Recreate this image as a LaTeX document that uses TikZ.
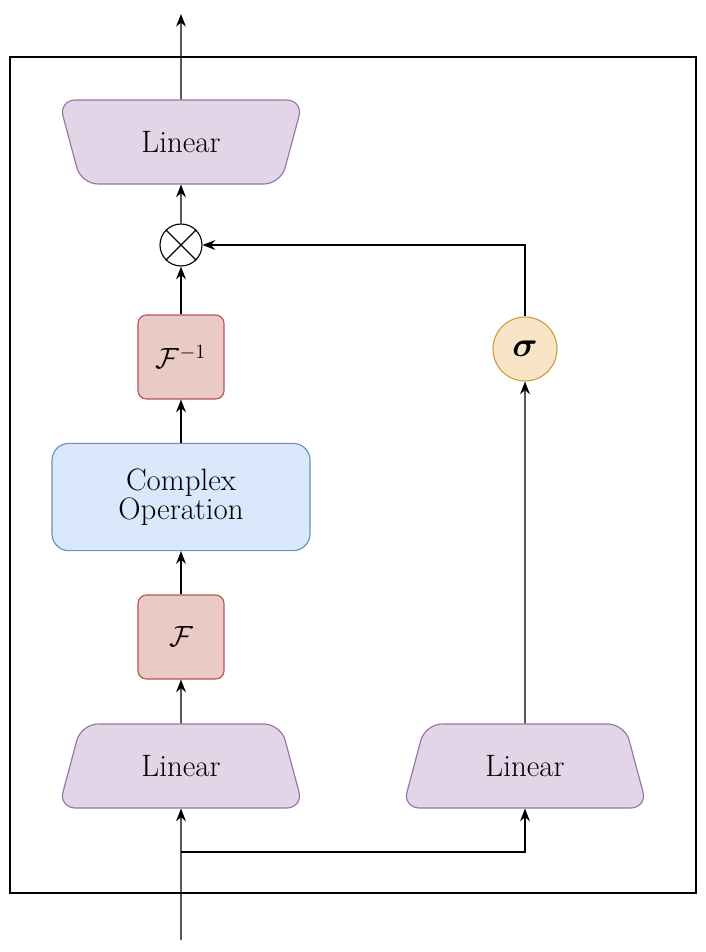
\documentclass[tikz,border=0pt]{standalone}
\usepackage{amsmath}
\usepackage{amssymb}
\usepackage{bm}
\usetikzlibrary{shapes.geometric,positioning,arrows.meta}
\definecolor{linfill}{HTML}{E1D5E7}
\definecolor{linline}{HTML}{9673A6}
\definecolor{fftfill}{HTML}{EACAC4}
\definecolor{fftline}{HTML}{B85450}
\definecolor{opfill}{HTML}{DAE8FC}
\definecolor{opline}{HTML}{6C8EBF}
\definecolor{sigfill}{HTML}{FAE4C8}
\definecolor{sigline}{HTML}{C9A03C}
\begin{document}
\begin{tikzpicture}[
        x=0.025cm, y=-0.025cm,
        font=\fontsize{22}{25}\selectfont,
        linear/.style={trapezium, trapezium stretches=true, draw=linline, thick, fill=linfill, rounded corners=12pt, minimum width=6.15cm, minimum height=2.1cm, trapezium left angle=72, trapezium right angle=72},
        fft/.style={rectangle, rounded corners=6pt, draw=fftline, thick, fill=fftfill, minimum width=2.15cm, minimum height=2.1cm},
        op/.style={rectangle, rounded corners=12pt, draw=opline, thick, fill=opfill, minimum width=6.45cm, minimum height=2.68cm, align=center},
        flow/.style={-{Stealth[length=9pt,width=7pt]}, thick}
    ]
    \useasboundingbox (0,0) rectangle (705,952);
    \draw[thick] (10,57) rectangle (696,893);

    % main path
    \node[linear, shape border rotate=180] (lintop) at (181,142) {Linear};
    \node[circle, draw, thick, fill=white, minimum size=1.05cm] (mult) at (181,245) {};
    \draw[thick] (mult.north west) -- (mult.south east) (mult.north east) -- (mult.south west);
    \node[fft] (ifft) at (181,357) {$\mathcal{F}^{-1}$};
    \node[op] (cop) at (181,497) {Complex\\[-4pt]Operation};
    \node[fft] (fft) at (181,637) {$\mathcal{F}$};
    \node[linear] (linleft) at (181,766) {Linear};

    % gate path
    \node[linear] (linright) at (525,766) {Linear};
    \node[circle, draw=sigline, thick, fill=sigfill, minimum size=1.6cm, font=\fontsize{30}{32}\selectfont] (sig) at (525,349) {$\bm{\sigma}$};

    \coordinate (in) at (181,940);
    \coordinate (split) at (181,852);
    \coordinate (out) at (181,14);

    \draw[flow] (in) -- (linleft);
    \draw[flow] (split) -| (linright);
    \draw[flow] (linleft) -- (fft);
    \draw[flow] (fft) -- (cop);
    \draw[flow] (cop) -- (ifft);
    \draw[flow] (ifft) -- (mult);
    \draw[flow] (linright) -- (sig);
    \draw[flow] (sig) |- (mult);
    \draw[flow] (mult) -- (lintop);
    \draw[flow] (lintop) -- (out);
\end{tikzpicture}
\end{document}
